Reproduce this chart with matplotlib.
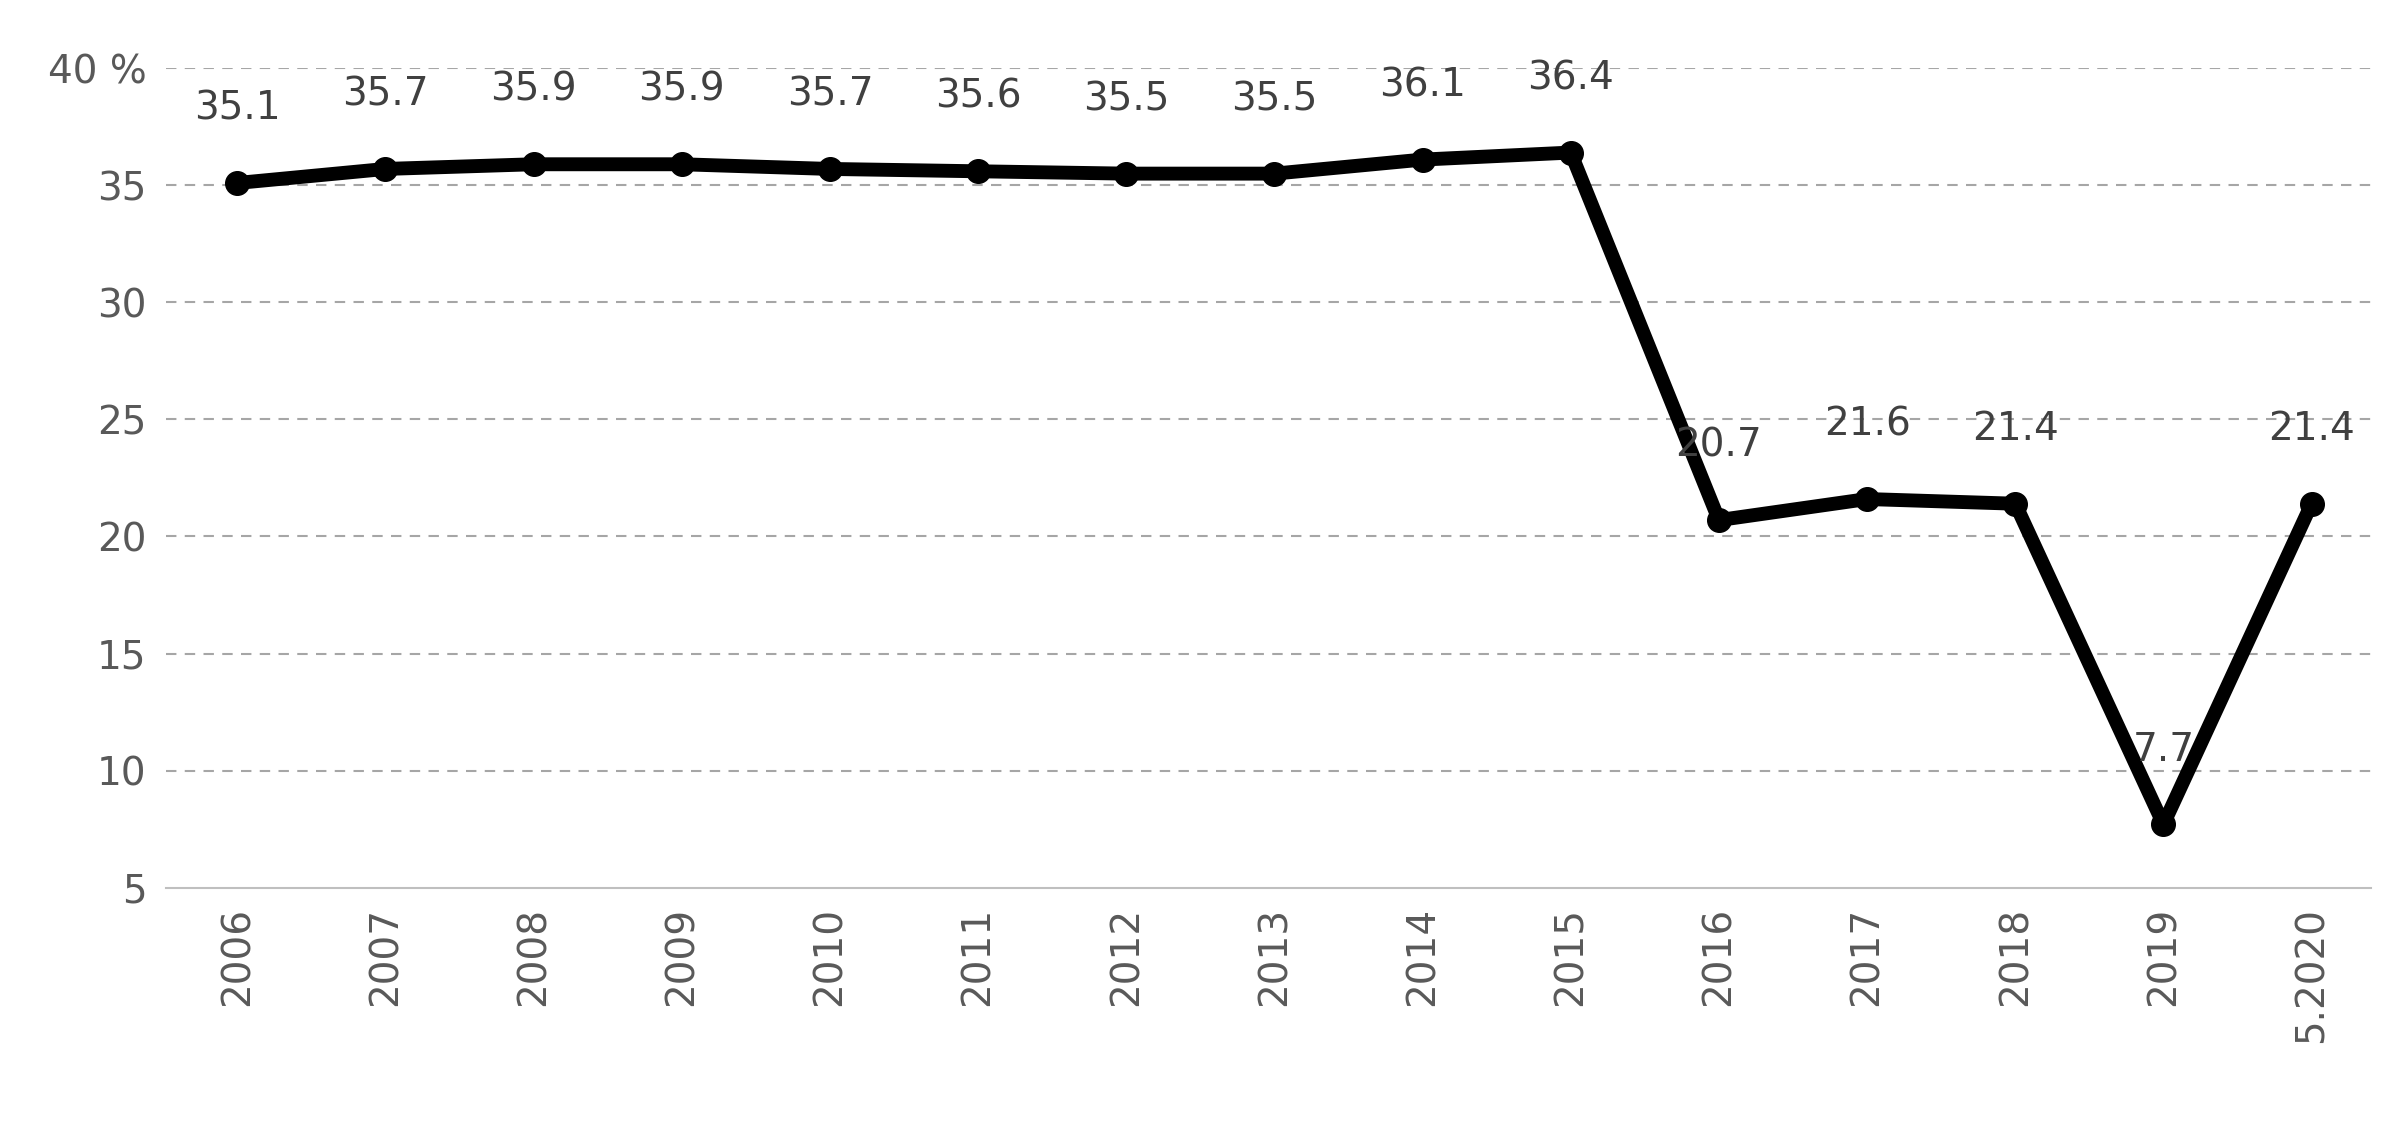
import matplotlib
matplotlib.use("Agg")
import matplotlib.pyplot as plt

categories = ["2006","2007","2008","2009","2010","2011","2012","2013","2014","2015","2016","2017","2018","2019","5.2020"]
values = [35.1,35.7,35.9,35.9,35.7,35.6,35.5,35.5,36.1,36.4,20.7,21.6,21.4,7.7,21.4]
yticks = [5,10,15,20,25,30,35,40]
ytick_labels = ["5","10","15","20","25","30","35","40 %"]

fig = plt.figure(figsize=(24.07,11.38), dpi=100)
ax = fig.add_axes([0.069,0.22,0.916,0.72])
x = list(range(len(categories)))
ax.plot(x, values, color="black", lw=10, marker="o", ms=17, solid_joinstyle="round", zorder=3)
for xi, v in zip(x, values):
    ax.annotate(f"{v}", (xi, v), xytext=(0, 40), textcoords="offset points",
                ha="center", va="bottom", fontsize=28, color="#404040")
ax.set_ylim(5, 40)
ax.set_xlim(-0.48, len(categories)-0.6)
ax.set_yticks(yticks)
ax.set_yticklabels(ytick_labels, fontsize=28, color="#595959")
ax.set_xticks(x)
ax.set_xticklabels(categories, rotation=90, fontsize=28, color="#595959")
for yv in yticks[1:]:
    ax.axhline(yv, color="#a6a6a6", lw=1.5, ls=(0,(5,4)), zorder=1)
for s in ["top","right","left"]:
    ax.spines[s].set_visible(False)
ax.spines["bottom"].set_color("#bfbfbf")
ax.spines["bottom"].set_linewidth(1.5)
ax.tick_params(length=0, pad=14)
fig.savefig("out.png", dpi=100)
